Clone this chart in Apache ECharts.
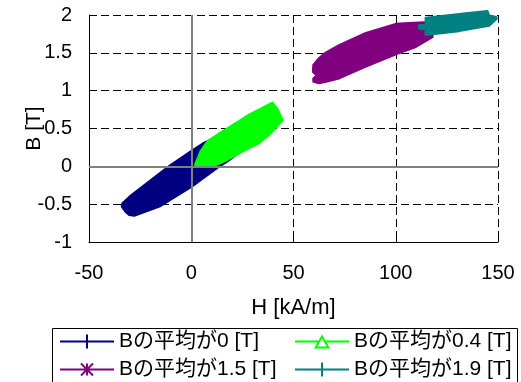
<!DOCTYPE html>
<html>
<head>
<meta charset="utf-8">
<script src="https://cdn.jsdelivr.net/npm/echarts@6/dist/echarts.min.js"></script>
<style>
  html, body { margin: 0; padding: 0; background: #fff; }
  #chart { width: 521px; height: 382px; }
</style>
</head>
<body>
<div id="chart"></div>
<script>
// hysteresis loops, [H kA/m, B T], traced round the outline of each loop
var seriesNames = ['Bの平均が0 [T]', 'Bの平均が0.4 [T]', 'Bの平均が1.5 [T]', 'Bの平均が1.9 [T]'];
var loop0 = [[33, 0.56], [25, 0.52], [15, 0.42], [6.4, 0.31], [0, 0.2], [-10.8, 0], [-23.8, -0.27],
  [-30, -0.4], [-33.6, -0.49], [-33.9, -0.53], [-32, -0.6], [-30.3, -0.64], [-27.9, -0.65],
  [-15.6, -0.53], [0, -0.27], [13.7, 0], [17.8, 0.07], [25, 0.22], [32, 0.45]];
var loop04 = [[1.95, 0.02], [4.7, 0.2], [8, 0.33], [15.3, 0.46], [21.8, 0.57], [28.3, 0.68], [39.7, 0.84],
  [42.2, 0.75], [44.6, 0.61], [38.1, 0.42], [33.2, 0.31], [25.1, 0.2], [17, 0.08], [12, 0.02]];
var loop15 = [[59.8, 1.34], [62.6, 1.43], [65.8, 1.5], [72.3, 1.6], [85.4, 1.76], [100, 1.88], [106.6, 1.89],
  [114, 1.9], [118, 1.8], [117.9, 1.71], [109.8, 1.58], [101.6, 1.5], [85.4, 1.32], [72.3, 1.165],
  [65.8, 1.12], [62.6, 1.1], [59.8, 1.12], [59.8, 1.16], [61.6, 1.2], [59.6, 1.25]];
var loop19 = [[114.7, 1.96], [131, 2.01], [144.8, 2.05], [145.6, 1.99], [149.2, 1.97], [149.2, 1.95],
  [145.6, 1.86], [131, 1.79], [114.7, 1.74], [114.7, 1.81], [111.4, 1.82], [111.4, 1.86], [114.7, 1.87]];
var loops = [loop0, loop04, loop15, loop19];
var colors = ['#000080', '#00ff00', '#800080', '#008080'];
var xTicks = [-50, 150, 50];
var yTicks = [-1, 2, 0.5];

var font = "'Liberation Sans', Arial, 'Noto Sans CJK JP', sans-serif";

// legend icons: line with the marker in the middle (54 x 16 box)
var corners = 'M0 0 L0.01 0 L0.01 0.01 Z M54 16 L53.99 16 L53.99 15.99 Z ';
var bar = 'M0 7 L54 7 L54 9 L0 9 Z ';
var plus = corners + bar + 'M26 1 L28 1 L28 15 L26 15 Z';
var star = corners + bar + 'M26 2 L28 2 L28 14 L26 14 Z ' +
  'M20.3 2.7 L21.7 1.3 L33.7 13.3 L32.3 14.7 Z M32.3 1.3 L33.7 2.7 L21.7 14.7 L20.3 13.3 Z';
var tri = corners + 'M0 7 L23 7 L23 9 L0 9 Z M31 7 L54 7 L54 9 L31 9 Z ' +
  'M27 1 L35 15 L19 15 Z M27 5 L22.4 13 L31.6 13 Z';
var icons = ['path://' + plus, 'path://' + tri, 'path://' + star, 'path://' + plus];
var legendPos = [[60, 331], [295, 331], [60, 359], [295, 359]];

function loopRenderer(points, color) {
  return function (params, api) {
    if (params.dataIndex !== 0) return null;
    var pts = points.map(function (p) { return api.coord(p); });
    return {
      type: 'polygon',
      shape: { points: pts },
      style: { fill: color, stroke: color, lineWidth: 2.5, lineJoin: 'round' }
    };
  };
}

var series = loops.map(function (pts, i) {
  return {
    name: seriesNames[i],
    type: 'custom',
    data: pts,
    encode: { x: 0, y: 1 },
    itemStyle: { color: colors[i] },
    renderItem: loopRenderer(pts, colors[i]),
    z: 3,
    silent: true
  };
});
// solid zero lines
series.push({
  type: 'line',
  data: [],
  z: 1,
  silent: true,
  markLine: {
    silent: true,
    symbol: 'none',
    label: { show: false },
    animation: false,
    lineStyle: { color: '#808080', width: 2, type: 'solid' },
    data: [{ xAxis: 0 }, { yAxis: 0 }]
  }
});

var legends = seriesNames.map(function (name, i) {
  return {
    orient: 'horizontal',
    left: legendPos[i][0],
    top: legendPos[i][1],
    padding: 0,
    itemWidth: 54,
    itemHeight: 16,
    selectedMode: false,
    textStyle: { fontFamily: font, fontSize: 21, color: '#000' },
    data: [{ name: name, icon: icons[i] }]
  };
});

var chart = echarts.init(document.getElementById('chart'));
chart.setOption({
  animation: false,
  backgroundColor: '#fff',
  textStyle: { fontFamily: font },
  grid: { left: 89, right: 23, top: 15, bottom: 140 },
  xAxis: {
    type: 'value',
    min: xTicks[0], max: xTicks[1], interval: xTicks[2],
    name: 'H [kA/m]',
    nameLocation: 'middle',
    nameGap: 55,
    nameMoveOverlap: false,
    nameTextStyle: { fontFamily: font, fontSize: 22, color: '#000' },
    axisLine: { onZero: false, lineStyle: { color: '#000', width: 1 } },
    axisTick: { inside: true, length: 5, lineStyle: { color: '#000' } },
    axisLabel: { fontFamily: font, fontSize: 20, color: '#000', margin: 21 },
    splitLine: { show: true, lineStyle: { color: '#000', type: [8, 4], width: 1 } }
  },
  yAxis: {
    type: 'value',
    min: yTicks[0], max: yTicks[1], interval: yTicks[2],
    name: 'B [T]',
    nameLocation: 'middle',
    nameGap: 44,
    nameMoveOverlap: false,
    nameTextStyle: { fontFamily: font, fontSize: 21, color: '#000' },
    axisLine: { show: true, onZero: false, lineStyle: { color: '#000', width: 1 } },
    axisTick: { show: true, inside: true, length: 5, lineStyle: { color: '#000' } },
    axisLabel: { fontFamily: font, fontSize: 20, color: '#000', margin: 17 },
    splitLine: { show: true, lineStyle: { color: '#000', type: [8, 4], width: 1 } }
  },
  legend: legends,
  graphic: [{
    type: 'rect',
    silent: true,
    shape: { x: 52.5, y: 328.5, width: 465, height: 60 },
    style: { fill: 'transparent', stroke: '#000', lineWidth: 1 }
  }],
  series: series
});
</script>
</body>
</html>
